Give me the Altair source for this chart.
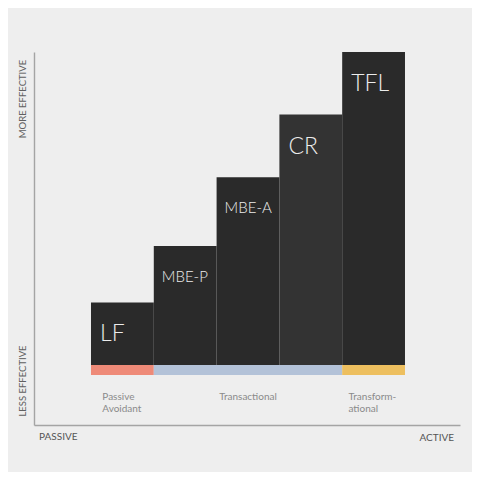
import altair as alt
import pandas as pd

leaders = ["LF", "MBE-P", "MBE-A", "CR", "TFL"]
effectiveness = [1.0, 1.9, 3.0, 4.0, 5.0]
styles = ["Passive\nAvoidant", "Transactional", "Transactional", "Transactional", "Transform-\national"]
style_names = ["Passive\nAvoidant", "Transactional", "Transform-\national"]
style_colors = ["#ee8a78", "#b3c2d8", "#edbf5f"]
axis_ends = ["PASSIVE", "ACTIVE"]
effect_ends = ["MORE  EFFECTIVE", "LESS  EFFECTIVE"]

df = pd.DataFrame({"leader": leaders, "eff": effectiveness, "style": styles})
df["pos"] = range(len(leaders))
df["pos2"] = df["pos"] + 1
groups = (df.groupby("style", sort=False)
            .agg(start=("pos", "min"), end=("pos2", "max"))
            .reset_index())
groups["mid"] = (groups["start"] + groups["end"]) / 2

FONT = "Lato"
AX = dict(domain=True, ticks=False, labels=False, grid=False, title=None,
          domainColor="#a4a4a4", domainWidth=1.4)
xs = alt.Scale(domain=[-0.9076, 5.876], nice=False, zero=False)
ys = alt.Scale(domain=[-0.958, 5.0], nice=False, zero=False)

bars = alt.Chart(df).mark_rect().encode(
    x=alt.X("pos:Q", scale=xs, axis=alt.Axis(**AX)),
    x2="pos2:Q",
    y=alt.Y("eff:Q", scale=ys, axis=alt.Axis(**AX)),
    y2=alt.datum(0),
    color=alt.condition(alt.datum.leader == "CR", alt.value("#333333"), alt.value("#2a2a2a")),
)

strips = alt.Chart(groups).mark_rect().encode(
    x=alt.X("start:Q", scale=xs),
    x2="end:Q",
    y=alt.datum(0),
    y2=alt.datum(-0.16),
    color=alt.Color("style:N", scale=alt.Scale(domain=style_names, range=style_colors), legend=None),
)

big_labels = alt.Chart(df).transform_filter("length(datum.leader) <= 3").mark_text(
    align="left", baseline="alphabetic", dx=9, dy=39, fontSize=23, fontWeight=300,
    font=FONT, color="#ececec"
).encode(x=alt.X("pos:Q", scale=xs), y=alt.Y("eff:Q", scale=ys), text="leader:N")

small_labels = alt.Chart(df).transform_filter("length(datum.leader) > 3").mark_text(
    align="left", baseline="alphabetic", dx=8, dy=36, fontSize=15, fontWeight=300,
    font=FONT, color="#ececec"
).encode(x=alt.X("pos:Q", scale=xs), y=alt.Y("eff:Q", scale=ys), text="leader:N")

# two-line labels: block centred on the group, lines left-aligned
multi_labels = alt.Chart(groups).transform_filter(
    "indexof(datum.style, '\\n') >= 0"
).transform_calculate(
    longest="max(length(split(datum.style, '\\n')[0]), length(split(datum.style, '\\n')[1]))",
    lx="datum.mid - 0.04 * datum.longest",
).mark_text(
    align="left", baseline="middle", lineBreak="\n", lineHeight=12,
    fontSize=10, font=FONT, color="#8a8a8a"
).encode(x=alt.X("lx:Q", scale=xs), y=alt.datum(-0.51), text="style:N")

single_labels = alt.Chart(groups).transform_filter(
    "indexof(datum.style, '\\n') < 0"
).mark_text(
    align="center", baseline="middle", fontSize=10, font=FONT, color="#8a8a8a"
).encode(x=alt.X("mid:Q", scale=xs), y=alt.datum(-0.51), text="style:N")

passive = alt.Chart(alt.Data(values=[{"t": axis_ends[0]}])).mark_text(
    align="left", baseline="alphabetic", fontSize=10, font=FONT, color="#555555"
).encode(x=alt.value(5), y=alt.value(388), text="t:N")

active = alt.Chart(alt.Data(values=[{"t": axis_ends[1]}])).mark_text(
    align="right", baseline="alphabetic", fontSize=10, font=FONT, color="#555555"
).encode(x=alt.value(420), y=alt.value(388.5), text="t:N")

more_eff = alt.Chart(alt.Data(values=[{"t": effect_ends[0]}])).mark_text(
    align="center", baseline="middle", angle=270, fontSize=9.5, font=FONT, color="#606060"
).encode(x=alt.value(-11), y=alt.value(47), text="t:N")

less_eff = alt.Chart(alt.Data(values=[{"t": effect_ends[1]}])).mark_text(
    align="center", baseline="middle", angle=270, fontSize=9.5, font=FONT, color="#606060"
).encode(x=alt.value(-11), y=alt.value(329), text="t:N")

chart = alt.layer(
    bars, strips, big_labels, small_labels, multi_labels, single_labels,
    passive, active, more_eff, less_eff
).properties(
    width=426, height=373,
    padding={"left": 26, "top": 44, "right": 12, "bottom": 47},
    autosize=alt.AutoSizeParams(type="none"),
    background="#eeeeee",
).configure_view(stroke=None)

chart.save("out.html", embed_options={"renderer": "svg", "actions": False})
